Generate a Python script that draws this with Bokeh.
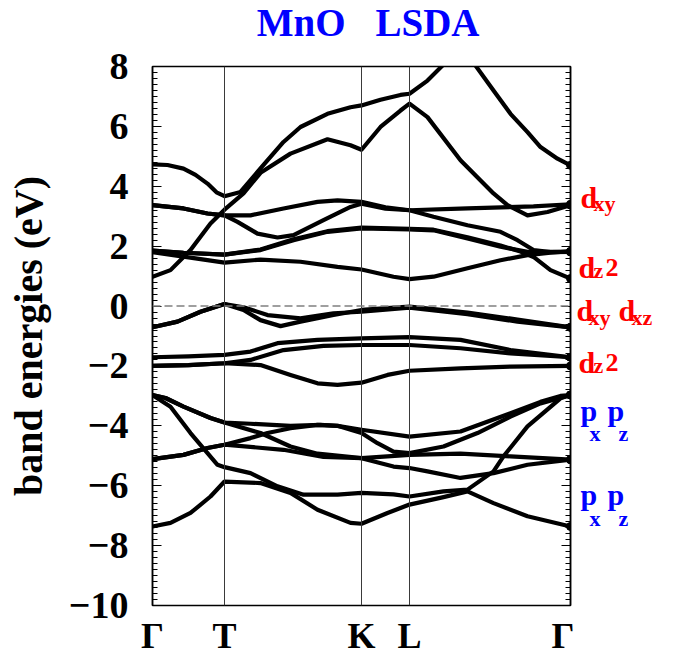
from bokeh.plotting import figure
from bokeh.models import Range1d, SingleIntervalTicker, FixedTicker, LinearAxis, Span
from bokeh.layouts import row, column
from bokeh.core.properties import value
from bokeh.embed import file_html
from bokeh.resources import INLINE

# ---------------- data ----------------
KPOINT_X = [0.0, 0.72, 2.09, 2.57, 4.18]
KPOINT_LABELS = ["Γ", "T", "K", "L", "Γ"]
YTICKS = [-10, -8, -6, -4, -2, 0, 2, 4, 6, 8]
YTICK_LABELS = ["−10", "−8", "−6", "−4", "−2", "0", "2", "4", "6", "8"]
TITLE_WORDS = ["MnO", "LSDA"]

band_A_k = [0, 0.15, 0.31, 0.43, 0.55, 0.64, 0.72, 0.88, 1.08, 1.31, 1.48, 1.75, 1.98, 2.09, 2.28, 2.48, 2.57, 2.75, 2.90, 3.06, 3.23, 3.41, 3.58, 3.75, 3.88, 4.05, 4.18]
band_A_e = [4.73, 4.71, 4.59, 4.38, 4.09, 3.8, 3.67, 3.81, 4.6, 5.48, 5.98, 6.42, 6.64, 6.7, 6.89, 7.05, 7.09, 7.53, 8.03, 8.45, 8.03, 7.2, 6.42, 5.81, 5.31, 4.92, 4.7]

band_B_k = [0, 0.18, 0.38, 0.58, 0.72, 0.91, 1.08, 1.38, 1.75, 1.98, 2.09, 2.28, 2.48, 2.57, 2.75, 3.08, 3.41, 3.55, 3.75, 3.95, 4.18]
band_B_e = [0.98, 1.2, 1.87, 2.76, 3.22, 3.76, 4.45, 5.09, 5.57, 5.37, 5.22, 5.98, 6.53, 6.76, 6.31, 4.87, 3.76, 3.37, 3.03, 3.14, 3.37]

band_X1_k = [0, 0.31, 0.55, 0.72, 0.98, 1.31, 1.65, 1.85, 2.09, 2.33, 2.57, 3.15, 3.81, 4.18]
band_X1_e = [3.37, 3.26, 3.09, 3.03, 3.03, 3.26, 3.48, 3.53, 3.48, 3.3, 3.2, 3.26, 3.33, 3.4]

band_X2_k = [0, 0.31, 0.55, 0.72, 0.85, 1.05, 1.25, 1.41, 1.71, 1.98, 2.09, 2.33, 2.57, 2.81, 3.15, 3.48, 3.65, 3.81, 3.98, 4.18]
band_X2_e = [3.37, 3.26, 3.09, 3.03, 2.81, 2.42, 2.29, 2.37, 2.87, 3.31, 3.42, 3.25, 3.2, 2.98, 2.7, 2.48, 2.2, 1.87, 1.8, 1.81]

band_Y1_k = [0, 0.31, 0.72, 1.08, 1.41, 1.75, 2.09, 2.57, 2.81, 3.15, 3.48, 3.75, 4.18]
band_Y1_e = [1.85, 1.78, 1.72, 1.87, 2.2, 2.48, 2.59, 2.56, 2.53, 2.26, 1.98, 1.81, 1.81]

band_Y2_k = [0, 0.31, 0.72, 1.08, 1.41, 1.75, 2.09, 2.57, 2.81, 3.15, 3.48, 3.68, 3.81, 3.98, 4.18]
band_Y2_e = [1.85, 1.78, 1.72, 1.89, 2.23, 2.5, 2.62, 2.58, 2.55, 2.3, 2.02, 1.82, 1.64, 1.2, 0.92]

band_Z_k = [0, 0.31, 0.72, 1.08, 1.48, 1.85, 2.09, 2.41, 2.57, 2.81, 3.15, 3.48, 3.75, 3.98, 4.18]
band_Z_e = [1.8, 1.65, 1.45, 1.55, 1.48, 1.31, 1.22, 0.98, 0.9, 0.98, 1.26, 1.53, 1.7, 1.78, 1.83]

band_N1_k = [0, 0.25, 0.48, 0.72, 0.91, 1.08, 1.28, 1.48, 1.81, 2.09, 2.57, 3.15, 3.65, 4.18]
band_N1_e = [-0.71, -0.52, -0.19, 0.07, -0.13, -0.47, -0.67, -0.52, -0.3, -0.13, -0.02, -0.22, -0.45, -0.71]

band_N2_k = [0, 0.25, 0.48, 0.72, 0.91, 1.15, 1.48, 1.81, 2.09, 2.57, 3.15, 3.65, 4.18]
band_N2_e = [-0.71, -0.52, -0.19, 0.07, -0.04, -0.3, -0.41, -0.24, -0.19, -0.05, -0.27, -0.52, -0.71]

band_E1_k = [0, 0.36, 0.72, 0.98, 1.25, 1.65, 2.09, 2.57, 3.08, 3.58, 4.18]
band_E1_e = [-1.71, -1.68, -1.63, -1.52, -1.24, -1.13, -1.08, -1.04, -1.13, -1.47, -1.71]

band_E2_k = [0, 0.36, 0.72, 0.98, 1.31, 1.71, 2.09, 2.57, 3.08, 3.58, 4.18]
band_E2_e = [-2.0, -1.97, -1.91, -1.8, -1.47, -1.33, -1.3, -1.3, -1.41, -1.58, -1.71]

band_E3_k = [0, 0.36, 0.72, 1.08, 1.38, 1.65, 1.85, 2.09, 2.35, 2.57, 3.08, 3.58, 4.18]
band_E3_e = [-2.0, -1.97, -1.91, -1.97, -2.3, -2.58, -2.63, -2.56, -2.3, -2.16, -2.08, -2.02, -2.0]

band_P2_k = [0, 0.13, 0.31, 0.58, 0.72, 0.98, 1.38, 1.68, 1.85, 2.09, 2.25, 2.41, 2.57, 2.91, 3.25, 3.58, 3.88, 4.18]
band_P2_e = [-2.97, -3.07, -3.36, -3.74, -3.89, -3.93, -4.0, -3.97, -4.0, -4.24, -4.58, -4.86, -4.91, -4.69, -4.24, -3.69, -3.25, -2.97]

band_P3_k = [0, 0.13, 0.31, 0.58, 0.72, 1.08, 1.38, 1.65, 2.09, 2.57, 3.08, 3.58, 4.18]
band_P3_e = [-2.97, -3.07, -3.36, -3.74, -3.89, -4.24, -4.69, -4.93, -5.08, -4.97, -4.93, -5.02, -5.13]

band_P1_k = [0, 0.31, 0.55, 0.72, 0.98, 1.15, 1.38, 1.65, 1.85, 2.09, 2.57, 3.08, 3.58, 3.88, 4.08, 4.18]
band_P1_e = [-5.11, -4.97, -4.74, -4.63, -4.41, -4.24, -4.08, -3.97, -4.0, -4.13, -4.36, -4.19, -3.58, -3.2, -3.0, -2.97]

band_P4_k = [0, 0.31, 0.55, 0.72, 1.31, 1.71, 2.09, 2.41, 2.57, 2.75, 3.08, 3.41, 3.75, 4.18]
band_P4_e = [-5.11, -4.97, -4.74, -4.63, -4.8, -5.04, -5.08, -5.36, -5.41, -5.52, -5.74, -5.58, -5.3, -5.13]

band_P5_k = [0, 0.18, 0.38, 0.55, 0.65, 0.72, 0.98, 1.25, 1.51, 1.85, 2.09, 2.41, 2.57, 2.91, 3.15, 3.41, 3.51, 3.75, 4.08, 4.18]
band_P5_e = [-2.97, -3.36, -4.24, -4.91, -5.3, -5.38, -5.58, -6.02, -6.3, -6.3, -6.24, -6.29, -6.36, -6.19, -6.13, -5.52, -5.02, -4.02, -3.08, -2.97]

band_P6_k = [0, 0.18, 0.38, 0.58, 0.72, 1.08, 1.38, 1.65, 1.98, 2.09, 2.35, 2.57, 2.91, 3.15, 3.41, 3.75, 4.18]
band_P6_e = [-7.36, -7.24, -6.91, -6.36, -5.86, -5.91, -6.24, -6.8, -7.24, -7.27, -6.91, -6.63, -6.38, -6.19, -6.58, -7.02, -7.36]

BANDS = [
    (band_A_k, band_A_e), (band_B_k, band_B_e), (band_X1_k, band_X1_e), (band_X2_k, band_X2_e),
    (band_Y1_k, band_Y1_e), (band_Y2_k, band_Y2_e), (band_Z_k, band_Z_e),
    (band_N1_k, band_N1_e), (band_N2_k, band_N2_e),
    (band_E1_k, band_E1_e), (band_E2_k, band_E2_e), (band_E3_k, band_E3_e),
    (band_P1_k, band_P1_e), (band_P2_k, band_P2_e), (band_P3_k, band_P3_e),
    (band_P4_k, band_P4_e), (band_P5_k, band_P5_e), (band_P6_k, band_P6_e),
]

# orbital-character labels in the right margin (energies where the text sits)
ORB_MAIN_TEXT = ["d", "d", "d", "d", "d", "p", "p", "p", "p"]
ORB_MAIN_E = [3.61, 1.3, -0.14, -0.14, -1.87, -3.5, -3.5, -6.3, -6.3]
ORB_SUB_TEXT = ["xy", "z", "xy", "xz", "z", "x", "z", "x", "z"]
ORB_SUB_E = [3.41, 1.2, -0.37, -0.37, -1.97, -4.27, -4.27, -7.1, -7.1]
ORB_TWO_TEXT = ["2", "2"]
ORB_TWO_E = [1.3, -1.87]

# layout of those labels (pixel offsets from the label panel's left edge) and colours
ORB_MAIN_X = [6, 4, 2, 44, 4, 6, 33, 6, 33]
ORB_MAIN_COL = ["red", "red", "red", "red", "red", "blue", "blue", "blue", "blue"]
ORB_SUB_X = [19, 19, 14, 57, 19, 15, 44, 15, 44]
ORB_SUB_COL = ORB_MAIN_COL
ORB_TWO_X = [31, 31]

SERIF = "Liberation Serif"
PX_PER_K = 100.0          # horizontal scale of the band plot (pixels per k unit)
FRAME_LEFT = 152          # pixels from the page's left edge to the band frame
PAGE_W = 673
TITLE_H = 45
TOP_GAP = 66 - TITLE_H
BOTTOM_GAP = 52


def bare(fig):
    fig.grid.visible = False
    fig.outline_line_color = None
    fig.background_fill_color = "white"
    fig.border_fill_color = "white"
    return fig


# k-scale used by the full-width title strip, aligned with the band frame
strip_range = (KPOINT_X[0] - FRAME_LEFT / PX_PER_K, KPOINT_X[0] + (PAGE_W - FRAME_LEFT) / PX_PER_K)

# ---------------- title strip ----------------
t = bare(figure(width=PAGE_W, height=TITLE_H, output_backend="svg", toolbar_location=None,
                x_range=Range1d(*strip_range), y_range=Range1d(0, TITLE_H),
                x_axis_location=None, y_axis_location=None,
                min_border_left=0, min_border_right=0, min_border_top=0, min_border_bottom=0))
xmid = (KPOINT_X[0] + KPOINT_X[-1]) / 2
t.text(x=[xmid], y=[23], text=[TITLE_WORDS[0]], x_offset=-16, text_align="right",
       text_baseline="alphabetic", text_font=value(SERIF), text_font_style="bold",
       text_font_size=value("39px"), text_color="blue")
t.text(x=[xmid], y=[23], text=[TITLE_WORDS[1]], x_offset=14, text_align="left",
       text_baseline="alphabetic", text_font=value(SERIF), text_font_style="bold",
       text_font_size=value("39px"), text_color="blue")

# ---------------- band plot ----------------
p = figure(width=574, height=540 + TOP_GAP + BOTTOM_GAP, output_backend="svg", toolbar_location=None,
           x_range=Range1d(KPOINT_X[0], KPOINT_X[-1]), y_range=Range1d(-10, 8),
           min_border_left=FRAME_LEFT, min_border_right=4,
           min_border_top=TOP_GAP, min_border_bottom=BOTTOM_GAP)
p.grid.visible = False
p.outline_line_color = "black"
p.outline_line_width = 1.5
p.background_fill_color = "white"
p.border_fill_color = "white"

xax = p.xaxis[0]
xax.ticker = FixedTicker(ticks=KPOINT_X, minor_ticks=[])
xax.major_label_overrides = {t_: s for t_, s in zip(KPOINT_X, KPOINT_LABELS)}
xax.major_label_text_font = SERIF
xax.major_label_text_font_style = "bold"
xax.major_label_text_font_size = "36px"
xax.major_label_text_color = "black"
xax.major_label_standoff = 10
xax.major_tick_in = 0
xax.major_tick_out = 0
xax.axis_line_color = None

yax = p.yaxis[0]
yax.ticker = SingleIntervalTicker(interval=2, num_minor_ticks=10)
yax.major_label_overrides = {t_: s for t_, s in zip(YTICKS, YTICK_LABELS)}
yax.major_label_text_font = SERIF
yax.major_label_text_font_style = "bold"
yax.major_label_text_font_size = "38px"
yax.major_label_text_color = "black"
yax.major_label_standoff = 24
yax.major_tick_in = 9
yax.major_tick_out = 0
yax.minor_tick_in = 5
yax.minor_tick_out = 0
yax.axis_line_color = "black"
yax.axis_line_width = 1.5
yax.axis_label = "band energies (eV)"
yax.axis_label_text_font = SERIF
yax.axis_label_text_font_style = "bold"
yax.axis_label_text_font_size = "40px"
yax.axis_label_text_color = "black"
yax.axis_label_standoff = 15

rax = LinearAxis(ticker=SingleIntervalTicker(interval=2, num_minor_ticks=10))
rax.major_label_overrides = {t_: "" for t_ in YTICKS}
rax.major_label_standoff = 0
rax.major_tick_in = 9
rax.major_tick_out = 0
rax.minor_tick_in = 5
rax.minor_tick_out = 0
rax.axis_line_color = "black"
rax.axis_line_width = 1.5
p.add_layout(rax, "right")

for xk in KPOINT_X[1:-1]:
    p.add_layout(Span(location=xk, dimension="height", line_color="#3a3a3a", line_width=1))
p.add_layout(Span(location=0, dimension="width", line_color="#808080", line_width=1.5, line_dash="8 4"))

for kk, ee in BANDS:
    p.line(kk, ee, line_color="black", line_width=4.2, line_join="round", line_cap="round")
p.scatter([b_[0][-1] for b_ in BANDS], [b_[1][-1] for b_ in BANDS], size=8, color="black")

# ---------------- right-hand orbital label panel (shares the energy scale) ----------------
q = bare(figure(width=99, height=540 + TOP_GAP + BOTTOM_GAP, output_backend="svg", toolbar_location=None,
                x_range=Range1d(0, 99), y_range=p.y_range,
                x_axis_location=None, y_axis_location=None,
                min_border_left=0, min_border_right=0,
                min_border_top=TOP_GAP, min_border_bottom=BOTTOM_GAP))
q.text(x=ORB_MAIN_X, y=ORB_MAIN_E, text=ORB_MAIN_TEXT, text_color=ORB_MAIN_COL,
       text_font=value(SERIF), text_font_style="bold", text_font_size=value("30px"),
       text_baseline="alphabetic", text_align="left")
q.text(x=ORB_SUB_X, y=ORB_SUB_E, text=ORB_SUB_TEXT, text_color=ORB_SUB_COL,
       text_font=value(SERIF), text_font_style="bold", text_font_size=value("22px"),
       text_baseline="alphabetic", text_align="left")
q.text(x=ORB_TWO_X, y=ORB_TWO_E, text=ORB_TWO_TEXT, text_color="red",
       text_font=value(SERIF), text_font_style="bold", text_font_size=value("26px"),
       text_baseline="alphabetic", text_align="left")

layout = column(t, row(p, q, spacing=0), spacing=0)
open("out.html", "w").write(file_html(layout, INLINE))
